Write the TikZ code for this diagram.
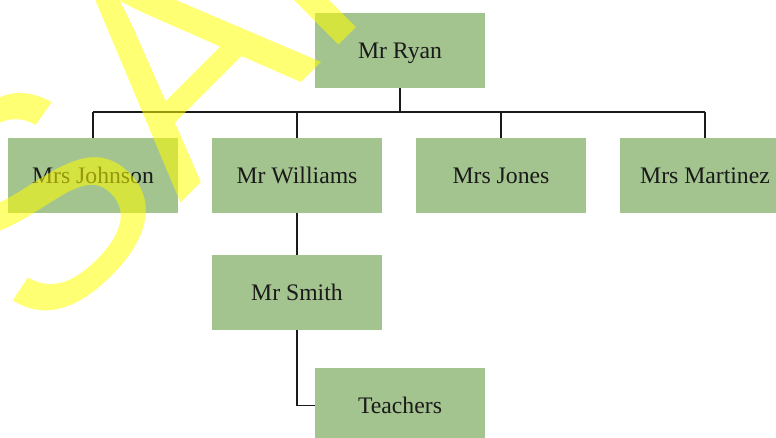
\documentclass[tikz,border=0pt]{standalone}
\usepackage{fontspec}
\setmainfont{Liberation Serif}
\newfontfamily\wmfont{Liberation Sans}
\definecolor{boxgreen}{HTML}{A3C38F}
\definecolor{inkdark}{HTML}{1A1A1A}
\definecolor{wmyellow}{HTML}{FFFF00}

\begin{document}
\begin{tikzpicture}[x=1pt, y=1pt,
	orgbox/.style={fill=boxgreen, minimum width=170pt, minimum height=75pt, inner sep=0pt, text height=15.7pt, text depth=0pt, text=inkdark, font=\fontsize{23.7}{28}\selectfont},
	conn/.style={draw=inkdark, line width=1.6pt},
	mainconn/.style={draw=inkdark, line width=2.4pt},
	watermark/.style={text=wmyellow, opacity=0.55, inner sep=0pt, font=\wmfont\fontsize{300}{300}\selectfont}]
	\useasboundingbox (0,0) rectangle (776,-438);
	\clip (0,0) rectangle (776,-438);
	% boxes
	\node[orgbox] (ryan) at (400,-50.5) {Mr Ryan};
	\node[orgbox] (johnson) at (93,-175.5) {Mrs Johnson};
	\node[orgbox] (williams) at (297,-175.5) {Mr Williams};
	\node[orgbox] (jones) at (501,-175.5) {Mrs Jones};
	\node[orgbox] (martinez) at (705,-175.5) {Mrs Martinez};
	\node[orgbox] (smith) at (297,-292.5) {Mr Smith};
	\node[orgbox] (teachers) at (400,-405.5) {Teachers};
	% connectors
	\coordinate (bus) at (400,-112);
	\draw[mainconn] (ryan.south) -- (bus);
	\draw[conn] (johnson.north |- bus) -- (martinez.north |- bus);
	\draw[conn] (johnson.north) -- (johnson.north |- bus);
	\draw[conn] (martinez.north) -- (martinez.north |- bus);
	\draw[mainconn] (williams.north) -- (williams.north |- bus);
	\draw[mainconn] (jones.north) -- (jones.north |- bus);
	\draw[mainconn] (williams.south) -- (smith.north);
	\draw[conn] (smith.south) |- (teachers.west);
	% watermark
	\node[watermark, rotate=45, anchor=base west] (wm) at (38.6,-345.4) {SAMPLE};
\end{tikzpicture}
\end{document}
